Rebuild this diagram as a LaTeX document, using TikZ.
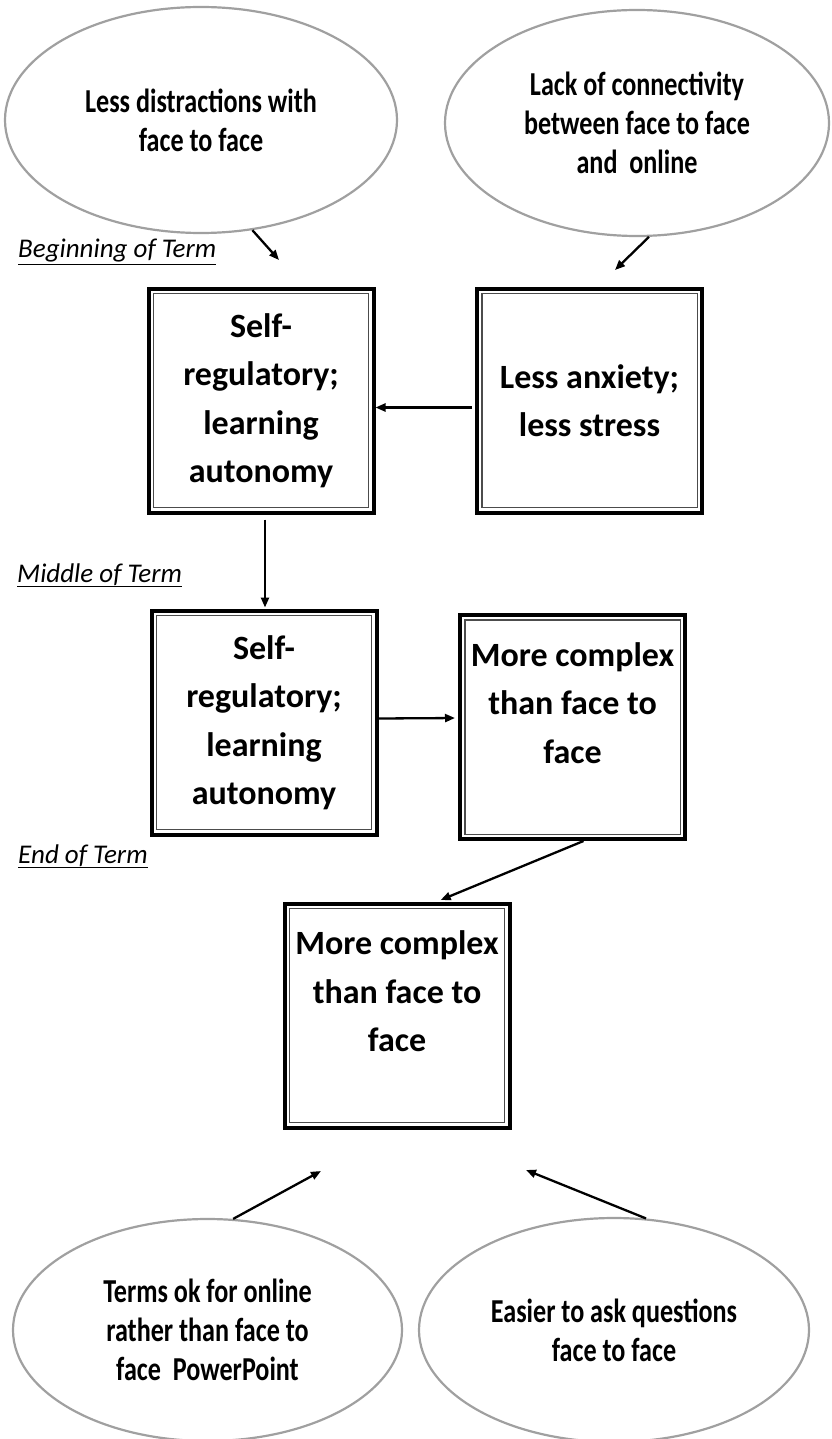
\documentclass[tikz,border=0pt]{standalone}
\usepackage{fontspec}
\setmainfont{Carlito}
\newfontfamily\condfont{Carlito}[FakeStretch=0.78]
\usetikzlibrary{arrows.meta,shapes.geometric}
\definecolor{ellgray}{RGB}{160,160,160}
\begin{document}
\begin{tikzpicture}[x=1pt,y=-1pt,
  ell/.style={ellipse, draw=ellgray, line width=2.2pt, inner sep=0pt,
    font=\condfont\bfseries\fontsize{33.5}{39}\selectfont, align=center},
  box/.style={rectangle, draw=black, line width=4pt, minimum width=225pt,
    minimum height=224pt, inner sep=0pt, align=center,
    font=\fontsize{34}{48.5}\selectfont\bfseries,
    path picture={\draw[line width=1.4pt, black!70]
      ([shift={(4.8pt,-4.8pt)}]path picture bounding box.north west) rectangle
      ([shift={(-4.8pt,4.8pt)}]path picture bounding box.south east);}},
  arr/.style={-{Triangle[length=10pt,width=8pt]}, line width=2.3pt},
  term/.style={anchor=base west, inner sep=0pt,
    font=\fontsize{27}{32}\selectfont\itshape}]
\useasboundingbox (0,0) rectangle (831,1439);

% ellipses
\node[ell, minimum width=392pt, minimum height=226pt] (e1) at (201,120)
  {Less distractions with\\face to face};
\node[ell, minimum width=384pt, minimum height=226pt] (e2) at (637,123)
  {Lack of connectivity\\between face to face\\and~ online};
\node[ell, minimum width=389pt, minimum height=222pt] (e3) at (207.5,1330)
  {Terms ok for online\\rather than face to\\face~ PowerPoint};
\node[ell, minimum width=390pt, minimum height=224pt] (e4) at (614,1330)
  {Easier to ask questions\\face to face};

% term labels
\node[term] (lb) at (18,258) {\underline{Beginning of Term}};
\node[term] (lm) at (17,582) {\underline{Middle of Term}};
\node[term] (le) at (18,863) {\underline{End of Term}};

% boxes
\node[box] (b1) at (261,400.5) {Self-\\regulatory;\\learning\\autonomy};
\node[box] (b2) at (589.5,400.5) {Less anxiety;\\less stress};
\node[box] (b3) at (264,722.5) {Self-\\regulatory;\\learning\\autonomy};
\node[box] (b4) at (572.5,727) {More complex\\than face to\\face\\\mbox{}};
\node[box] (b5) at (397,1015.5) {More complex\\than face to\\face\\\mbox{}};

% free arrow ends
\coordinate (t1) at (279,260);
\coordinate (t2) at (615,270);
\coordinate (t3) at (321,1171);
\coordinate (t4) at (526,1170);

% connectors
\draw[arr] (e1.-65) -- (t1);
\draw[arr] (e2.-84) -- (t2);
\draw[arr] (e3.77) -- (t3);
\draw[arr] (e4.74) -- (t4);
\draw[arr, shorten <=3pt] ([yshift=-7pt]b2.west) -- ([yshift=-7pt]b1.east);
\draw[arr, shorten <=5pt, shorten >=1pt] ([xshift=4pt]b1.south) -- ([xshift=1pt]b3.north);
\draw[arr, shorten >=3pt] ([yshift=4pt]b3.east) -- ([yshift=9pt]b4.west);
\draw[arr, shorten >=4pt] ([xshift=11pt]b4.south) -- ([xshift=40pt]b5.north);
\end{tikzpicture}
\end{document}
